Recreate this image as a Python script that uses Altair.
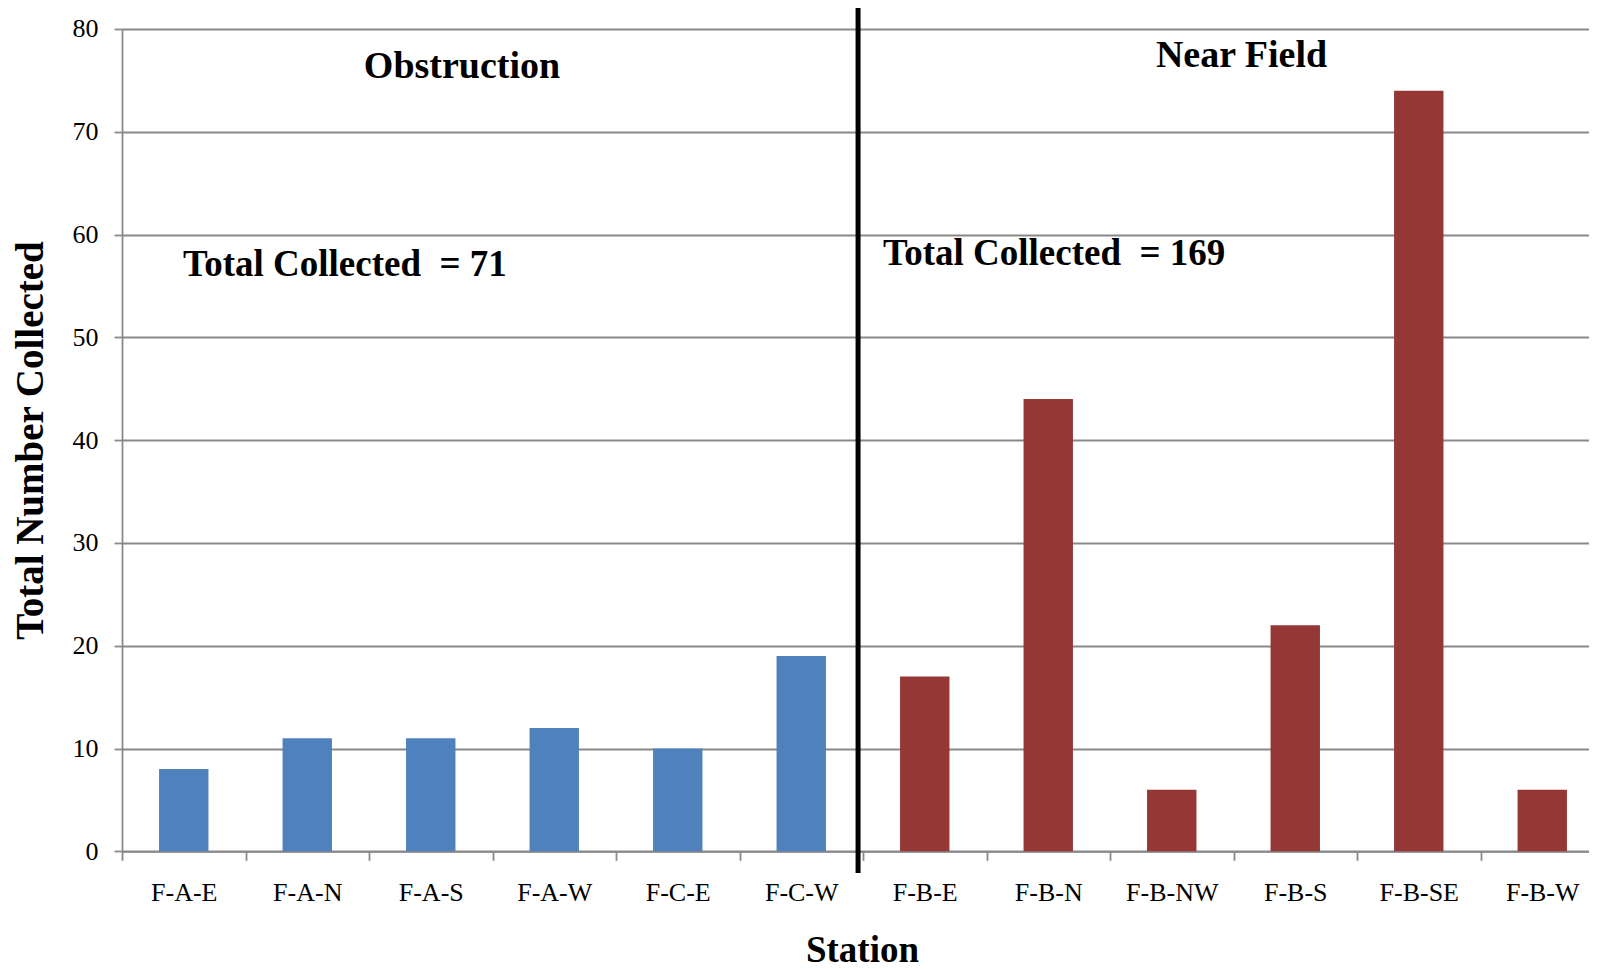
import altair as alt
import pandas as pd

stations = ["F-A-E", "F-A-N", "F-A-S", "F-A-W", "F-C-E", "F-C-W",
            "F-B-E", "F-B-N", "F-B-NW", "F-B-S", "F-B-SE", "F-B-W"]
counts = [8, 11, 11, 12, 10, 19, 17, 44, 6, 22, 74, 6]
groups = ["Obstruction"] * 6 + ["Near Field"] * 6

df = pd.DataFrame({"station": stations, "count": counts, "group": groups})

FONT = "Liberation Serif"
GRAY = "#898989"
STEP_RANGE = [0, 1482]

xscale = alt.Scale(domain=stations, range=STEP_RANGE, paddingInner=0, paddingOuter=0)
yscale = alt.Scale(domain=[0, 80])

bars = alt.Chart(df).mark_bar(width={"band": 0.4}).encode(
    x=alt.X("station:N", sort=stations, scale=xscale,
            axis=alt.Axis(title="Station", labelAngle=0, labelFont=FONT, labelFontSize=26,
                          labelColor="black", labelBaseline="alphabetic", labelPadding=40,
                          tickSize=9, tickBand="extent", tickColor=GRAY, tickWidth=1.8,
                          domainColor=GRAY, domainWidth=1.8, grid=False,
                          titleFont=FONT, titleFontSize=37, titleFontWeight="bold",
                          titleColor="black", titleX=740, titleY=110,
                          titleBaseline="alphabetic", titleAlign="center")),
    y=alt.Y("count:Q", scale=yscale,
            axis=alt.Axis(title="Total Number Collected", values=list(range(0, 81, 10)),
                          labelFont=FONT, labelFontSize=26, labelColor="black",
                          labelPadding=16, tickSize=8, tickColor=GRAY, tickWidth=1.8,
                          domainColor=GRAY, domainWidth=1.8,
                          grid=True, gridColor=GRAY, gridWidth=1.8,
                          titleFont=FONT, titleFontSize=39, titleFontWeight="bold",
                          titleColor="black", titleAngle=270, titleX=-80, titleY=411,
                          titleBaseline="alphabetic", titleAlign="center")),
    color=alt.Color("group:N", scale=alt.Scale(domain=["Obstruction", "Near Field"],
                                               range=["#4F81BD", "#953735"]), legend=None),
)

divider_df = pd.DataFrame({"station": ["F-C-W"], "top": [82.2], "bottom": [-2.1]})
divider = alt.Chart(divider_df).mark_rule(color="black", strokeWidth=5).encode(
    x=alt.X("station:N", bandPosition=0.96),
    y="top:Q",
    y2="bottom:Q",
)


def label(text, station, band, yval, align, size):
    d = pd.DataFrame({"station": [station], "y": [yval], "t": [text]})
    return alt.Chart(d).mark_text(font=FONT, fontSize=size, fontWeight="bold", color="black",
                                  align=align, baseline="alphabetic").encode(
        x=alt.X("station:N", bandPosition=band),
        y="y:Q",
        text="t:N",
    )


t1 = label("Obstruction", "F-A-S", 0.753, 75.2, "center", 38)
t2 = label("Near Field", "F-B-S", 0.065, 76.3, "center", 38)
t3 = label("Total Collected \u00a0= 71", "F-A-E", 0.494, 56.0, "left", 37)
t4 = label("Total Collected \u00a0= 169", "F-B-E", 0.162, 57.0, "left", 37)

chart = alt.layer(bars, divider, t1, t2, t3, t4).properties(
    width=1467, height=822.3,
    autosize=alt.AutoSizeParams(type="none"),
    padding={"left": 114, "top": 21, "right": 0, "bottom": 118},
).configure_view(stroke=None).configure(background="white")

chart.save("out.html", embed_options={"renderer": "svg", "actions": False})
